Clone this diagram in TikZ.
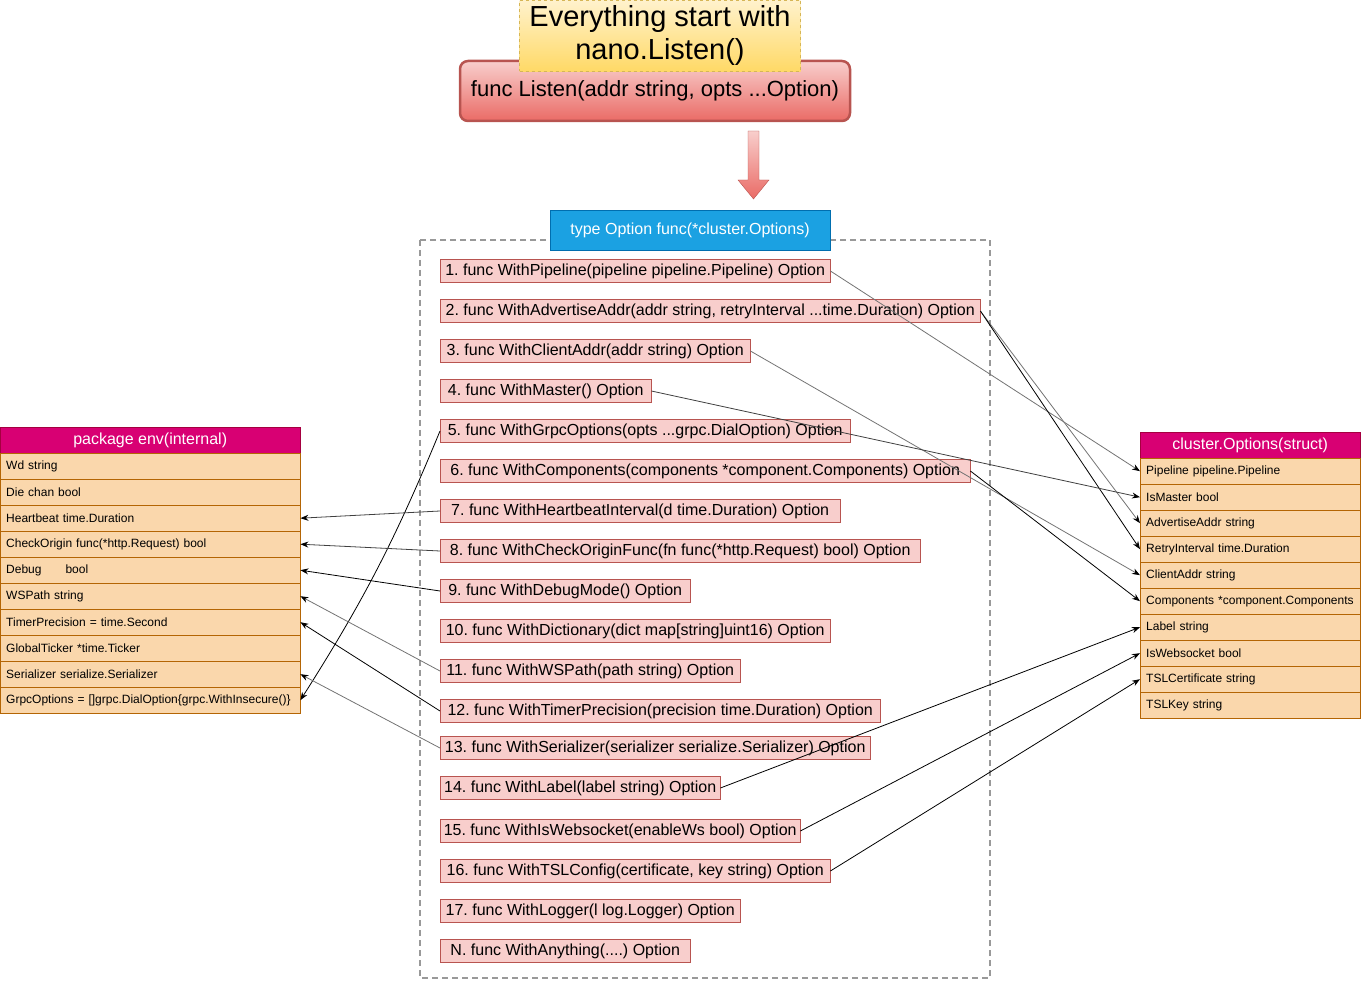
\documentclass[tikz,border=0pt]{standalone}
\usepackage{fontspec}
\setmainfont{Liberation Sans}
\usetikzlibrary{arrows.meta}
\frenchspacing
\definecolor{optfill}{HTML}{F8CECC}
\definecolor{optline}{HTML}{B85450}
\definecolor{listenbot}{HTML}{EA6B66}
\definecolor{rowfill}{HTML}{FAD7AC}
\definecolor{rowline}{HTML}{B46504}
\definecolor{headfill}{HTML}{D80073}
\definecolor{headline}{HTML}{A50040}
\definecolor{typefill}{HTML}{1BA1E2}
\definecolor{typeline}{HTML}{006EAF}
\definecolor{titletop}{HTML}{FFF2CC}
\definecolor{titlebot}{HTML}{FFD966}
\definecolor{titleline}{HTML}{D6B656}
\begin{document}
\begin{tikzpicture}[x=1pt, y=-1pt,
    opt/.style={draw=optline, fill=optfill, anchor=west, minimum height=23pt, inner xsep=2pt, font=\fontsize{16}{19}\selectfont},
    row/.style={draw=rowline, fill=rowfill, anchor=north west, align=left, inner xsep=6pt, minimum height=26pt, font=\fontsize{12}{14}\selectfont},
    envrow/.style={row, text width=288pt},
    clrow/.style={row, text width=208pt},
    head/.style={draw=headline, fill=headfill, text=white, anchor=north west, minimum height=26pt, font=\fontsize{16}{19}\selectfont},
    link/.style={-{Stealth[length=8pt,width=6pt,color=black]}, line width=0.8pt},
    thin link/.style={link, black!55},
    mid link/.style={link, black!75}]
    \useasboundingbox (0,0) rectangle (1361,981);
    \node[draw=optline, line width=2.5pt, rounded corners=8pt, top color=optfill, bottom color=listenbot, minimum width=390pt, minimum height=60pt, font=\fontsize{22}{26}\selectfont] (listen) at (655,91) {func Listen(addr string, opts ...Option)};
    \node[draw=titleline, dash pattern=on 3pt off 3pt, top color=titletop, bottom color=titlebot, minimum width=281pt, minimum height=71pt, align=center, font=\fontsize{29}{33}\selectfont] (title) at (660,36) {Everything start with\\nano.Listen()};
    \draw[draw=optline, top color=optfill, bottom color=listenbot] (748,131) -- (759,131) -- (759,180) -- (769,180) -- (753.5,199) -- (738,180) -- (748,180) -- cycle;
    \draw[black!40, line width=1.2pt, dash pattern=on 6pt off 4pt] (420,240) rectangle (990,978);
    \node[draw=typeline, fill=typefill, text=white, minimum width=280pt, minimum height=40pt, font=\fontsize{16}{19}\selectfont] (type) at (690,230) {type Option func(*cluster.Options)};
    \node[opt, minimum width=390pt] (opt1) at (440,271) {1. func WithPipeline(pipeline pipeline.Pipeline) Option};
    \node[opt, minimum width=540pt] (opt2) at (440,311) {2. func WithAdvertiseAddr(addr string, retryInterval ...time.Duration) Option};
    \node[opt, minimum width=310pt] (opt3) at (440,351) {3. func WithClientAddr(addr string) Option};
    \node[opt, minimum width=211pt] (opt4) at (440,391) {4. func WithMaster() Option};
    \node[opt, minimum width=410pt] (opt5) at (440,431) {5. func WithGrpcOptions(opts ...grpc.DialOption) Option};
    \node[opt, minimum width=530pt] (opt6) at (440,471) {6. func WithComponents(components *component.Components) Option};
    \node[opt, minimum width=400pt] (opt7) at (440,511) {7. func WithHeartbeatInterval(d time.Duration) Option};
    \node[opt, minimum width=480pt] (opt8) at (440,551) {8. func WithCheckOriginFunc(fn func(*http.Request) bool) Option};
    \node[opt, minimum width=250pt] (opt9) at (440,591) {9. func WithDebugMode() Option};
    \node[opt, minimum width=390pt] (opt10) at (440,631) {10. func WithDictionary(dict map[string]uint16) Option};
    \node[opt, minimum width=300pt] (opt11) at (440,671) {11. func WithWSPath(path string) Option};
    \node[opt, minimum width=440pt] (opt12) at (440,711) {12. func WithTimerPrecision(precision time.Duration) Option};
    \node[opt, minimum width=430pt] (opt13) at (440,748) {13. func WithSerializer(serializer serialize.Serializer) Option};
    \node[opt, minimum width=280pt] (opt14) at (440,788) {14. func WithLabel(label string) Option};
    \node[opt, minimum width=360pt] (opt15) at (440,831) {15. func WithIsWebsocket(enableWs bool) Option};
    \node[opt, minimum width=390pt] (opt16) at (440,871) {16. func WithTSLConfig(certificate, key string) Option};
    \node[opt, minimum width=300pt] (opt17) at (440,911) {17. func WithLogger(l log.Logger) Option};
    \node[opt, minimum width=250pt] (optN) at (440,951) {N. func WithAnything(....) Option};
    \node[head, minimum width=300pt] (envhead) at (0,427) {package env(internal)};
    \node[envrow] (env0) at (0,453) {Wd string};
    \node[envrow] (env1) at (0,479) {Die chan bool};
    \node[envrow] (env2) at (0,505) {Heartbeat time.Duration};
    \node[envrow] (env3) at (0,531) {CheckOrigin func(*http.Request) bool};
    \node[envrow] (env4) at (0,557) {Debug\hspace{24pt}bool};
    \node[envrow] (env5) at (0,583) {WSPath string};
    \node[envrow] (env6) at (0,609) {TimerPrecision = time.Second};
    \node[envrow] (env7) at (0,635) {GlobalTicker *time.Ticker};
    \node[envrow] (env8) at (0,661) {Serializer serialize.Serializer};
    \node[envrow] (env9) at (0,687) {GrpcOptions = []grpc.DialOption\{grpc.WithInsecure()\}};
    \node[head, minimum width=220pt] (clhead) at (1140,432) {cluster.Options(struct)};
    \node[clrow] (cl0) at (1140,458) {Pipeline pipeline.Pipeline};
    \node[clrow] (cl1) at (1140,484) {IsMaster bool};
    \node[clrow] (cl2) at (1140,510) {AdvertiseAddr string};
    \node[clrow] (cl3) at (1140,536) {RetryInterval time.Duration};
    \node[clrow] (cl4) at (1140,562) {ClientAddr string};
    \node[clrow] (cl5) at (1140,588) {Components *component.Components};
    \node[clrow] (cl6) at (1140,614) {Label string};
    \node[clrow] (cl7) at (1140,640) {IsWebsocket bool};
    \node[clrow] (cl8) at (1140,666) {TSLCertificate string};
    \node[clrow] (cl9) at (1140,692) {TSLKey string};
    \draw[thin link] (opt1.east) -- (cl0.west);
    \draw[thin link] (opt2.east) -- (cl2.west);
    \draw[link] (opt2.east) -- (cl3.west);
    \draw[thin link] (opt3.east) -- (cl4.west);
    \draw[mid link] (opt4.east) -- (cl1.west);
    \draw[link] (opt6.east) -- (cl5.west);
    \draw[link] (opt14.east) -- (cl6.west);
    \draw[link] (opt15.east) -- (cl7.west);
    \draw[link] (opt16.east) -- (cl8.west);
    \draw[link] (opt5.west) to[bend left=5] (env9.east);
    \draw[mid link] (opt7.west) -- (env2.east);
    \draw[mid link] (opt8.west) -- (env3.east);
    \draw[link] (opt9.west) -- (env4.east);
    \draw[thin link] (opt11.west) -- (env5.east);
    \draw[link] (opt12.west) -- (env6.east);
    \draw[thin link] (opt13.west) -- (env8.east);
\end{tikzpicture}
\end{document}
